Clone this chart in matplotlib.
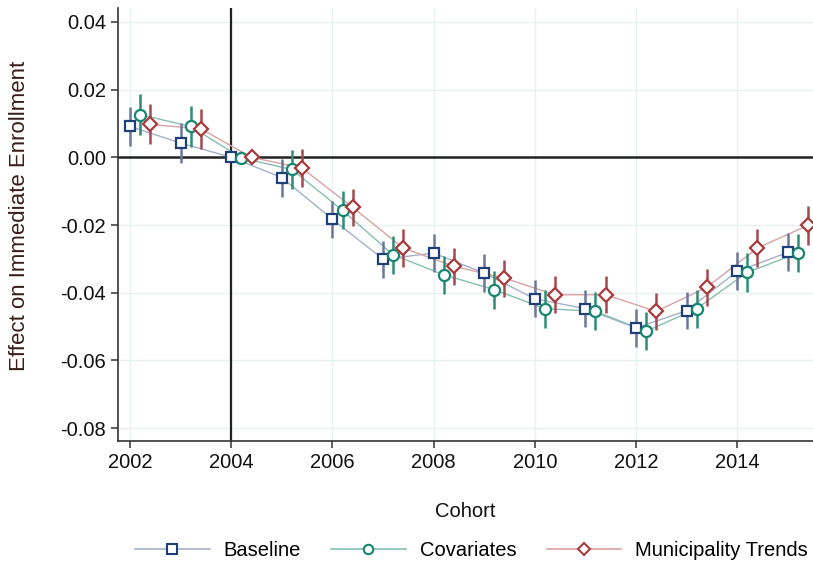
import matplotlib
matplotlib.use("Agg")
import matplotlib.pyplot as plt
import numpy as np
from matplotlib.lines import Line2D

plt.rcParams["font.family"] = ["Liberation Sans", "DejaVu Sans"]

cohorts = np.arange(2002, 2016)

# point estimates
baseline = [0.0091, 0.0042, 0.0, -0.0060, -0.0183, -0.0301, -0.0283, -0.0342,
            -0.0418, -0.0447, -0.0504, -0.0453, -0.0337, -0.0281]
covariates = [0.0126, 0.0091, -0.0002, -0.0036, -0.0157, -0.0288, -0.0347, -0.0391,
              -0.0447, -0.0455, -0.0514, -0.0447, -0.0340, -0.0283]
muni_trends = [0.0097, 0.0084, 0.0, -0.0032, -0.0148, -0.0268, -0.0322, -0.0357,
               -0.0406, -0.0406, -0.0455, -0.0384, -0.0268, -0.0201]

# half-width of the 95% intervals (reference year has none)
baseline_ci = [0.0059, 0.0059, 0.0, 0.0056, 0.0055, 0.0055, 0.0055, 0.0055,
               0.0055, 0.0055, 0.0055, 0.0055, 0.0056, 0.0056]
covariates_ci = [0.0060, 0.0060, 0.0, 0.0058, 0.0056, 0.0056, 0.0056, 0.0056,
                 0.0056, 0.0056, 0.0056, 0.0056, 0.0057, 0.0057]
muni_ci = [0.0059, 0.0059, 0.0, 0.0057, 0.0055, 0.0055, 0.0055, 0.0055,
           0.0055, 0.0055, 0.0055, 0.0055, 0.0057, 0.0058]

series = [
    ("Baseline", baseline, baseline_ci, 0.0, "s", 7.8, "#1f3f78", "#6b789c", "#a3b0ca"),
    ("Covariates", covariates, covariates_ci, 0.2, "o", 8.0, "#16876f", "#2f8c75", "#86bfb0"),
    ("Municipality Trends", muni_trends, muni_ci, 0.4, "D", 7.0, "#a83a3c", "#a44a4e", "#d9a2a4"),
]

fig = plt.figure(figsize=(8.13, 5.66), dpi=100)
ax = fig.add_axes([0.1451, 0.2208, 0.8549, 0.7651])

ax.set_xlim(2001.76, 2015.5)
ax.set_ylim(-0.0838, 0.0441)
ax.set_xticks(np.arange(2002, 2015, 2))
ax.set_yticks(np.arange(-0.08, 0.041, 0.02))
ax.yaxis.set_major_formatter(matplotlib.ticker.FormatStrFormatter("%.2f"))
ax.grid(True, color="#e8f0f2", lw=1.0, zorder=0)
ax.set_axisbelow(True)

ax.axhline(0, color="#222222", lw=1.8, zorder=1)
ax.axvline(2004, color="#222222", lw=1.6, zorder=1)

handles = []
for name, vals, ci, off, mk, ms, col, cicol, lcol in series:
    x = cohorts + off
    v = np.array(vals)
    c = np.array(ci)
    ax.plot(x, v, color=lcol, lw=1.0, zorder=2)
    has = c > 0
    ax.vlines(x[has], (v - c)[has], (v + c)[has], color=cicol, lw=1.8, zorder=3)
    ax.plot(x, v, ls="none", marker=mk, ms=ms, mec=col, mfc="white", mew=1.6, zorder=4)
    handles.append(Line2D([], [], color=lcol, lw=1.2, marker=mk, ms=ms * 0.85,
                          mec=col, mfc="white", mew=1.5, label=name))

for s in ["top", "right"]:
    ax.spines[s].set_visible(False)
for s in ["left", "bottom"]:
    ax.spines[s].set_color("#333333")
    ax.spines[s].set_linewidth(1.2)
ax.tick_params(direction="out", length=5, width=1.1, color="#333333",
               labelsize=14.5, labelcolor="#111111")

ax.set_xlabel("Cohort", fontsize=14.5, color="#111111", labelpad=22)
ax.set_ylabel("Effect on Immediate Enrollment", fontsize=16, color="#3a1c1c")
ax.yaxis.set_label_coords(-0.126, 0.52)

fig.legend(handles=handles, loc="lower center", bbox_to_anchor=(0.58, -0.022), ncol=3,
           frameon=False, fontsize=14.5, handlelength=3.7, columnspacing=1.5,
           handletextpad=0.7)

fig.savefig("out.png", dpi=100)
